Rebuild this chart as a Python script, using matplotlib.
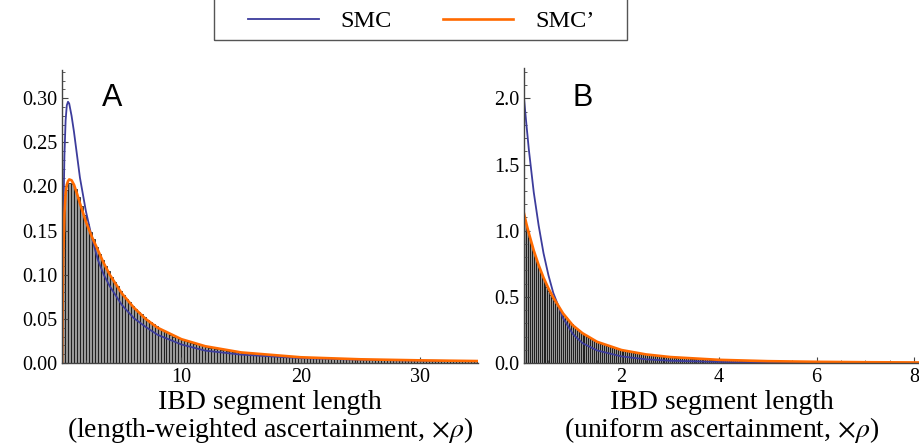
import numpy as np
import matplotlib
matplotlib.use("Agg")
import matplotlib.pyplot as plt
from matplotlib.lines import Line2D
from matplotlib.patches import Rectangle
from matplotlib.ticker import MultipleLocator, FixedLocator

plt.rcParams["font.family"] = ["Liberation Serif", "DejaVu Serif"]
plt.rcParams["mathtext.fontset"] = "stix"

# ---- panel A: length-weighted ascertainment ----
bin_width_a = 0.25
hist_a = [
    0.150, 0.196, 0.204, 0.203, 0.197, 0.188, 0.178, 0.168,
    0.158, 0.149, 0.140, 0.132, 0.124, 0.117, 0.110, 0.104,
    0.098, 0.092, 0.087, 0.082, 0.077, 0.073, 0.069, 0.065,
    0.061, 0.058, 0.055, 0.052, 0.049, 0.046, 0.044, 0.042,
    0.039, 0.037, 0.035, 0.034, 0.032, 0.030, 0.029, 0.027,
    0.026, 0.025, 0.024, 0.023, 0.022, 0.021, 0.020, 0.019,
    0.018, 0.0175, 0.017, 0.016, 0.0155, 0.015, 0.0145, 0.014,
    0.0135, 0.013, 0.0125, 0.012, 0.0116, 0.0112, 0.0108, 0.0104,
    0.0100, 0.0097, 0.0094, 0.0091, 0.0088, 0.0085, 0.0082, 0.0080,
    0.0077, 0.0075, 0.0073, 0.0071, 0.0069, 0.0067, 0.0065, 0.0063,
    0.0062, 0.0060, 0.0059, 0.0058, 0.0057, 0.0056, 0.0055, 0.0054,
    0.0053, 0.0052, 0.0051, 0.0050, 0.0049, 0.0048, 0.0047, 0.0046,
    0.0045, 0.0044, 0.0044, 0.0043, 0.0042, 0.0041, 0.0041, 0.0040,
    0.0039, 0.0039, 0.0038, 0.0037, 0.0037, 0.0036, 0.0036, 0.0035,
    0.0034, 0.0034, 0.0033, 0.0033, 0.0032, 0.0032, 0.0031, 0.0031,
    0.0030, 0.0030, 0.0029, 0.0029, 0.0028, 0.0028, 0.0028, 0.0027,
    0.0027, 0.0026, 0.0026, 0.0026, 0.0025, 0.0025, 0.0025, 0.0024,
    0.0024, 0.0024, 0.0023, 0.0023,
]
x_line_a = [0, 0.05, 0.1, 0.2, 0.3, 0.4, 0.5, 0.6, 0.8, 1.0, 1.25, 1.5, 2, 2.5,
            3, 3.5, 4, 5, 6, 7, 8, 10, 12, 15, 20, 25, 30, 35]
smc_a = [0, 0.090, 0.155, 0.235, 0.275, 0.292, 0.296, 0.294, 0.280, 0.262, 0.236,
         0.210, 0.172, 0.142, 0.117, 0.100, 0.087, 0.066, 0.051, 0.041, 0.032,
         0.021, 0.014, 0.0095, 0.0055, 0.0037, 0.0027, 0.0020]
smcp_a = [0, 0.070, 0.120, 0.170, 0.192, 0.202, 0.206, 0.208, 0.207, 0.202, 0.192,
          0.181, 0.160, 0.143, 0.128, 0.113, 0.100, 0.079, 0.063, 0.050, 0.040,
          0.027, 0.019, 0.012, 0.0065, 0.0042, 0.0030, 0.0022]

# ---- panel B: uniform ascertainment ----
bin_width_b = 0.04
hist_b = [
    1.06, 1.00, 0.948, 0.897, 0.849, 0.803, 0.760, 0.719, 0.681, 0.644,
    0.610, 0.577, 0.546, 0.517, 0.490, 0.466, 0.443, 0.421, 0.401, 0.381,
    0.363, 0.345, 0.328, 0.312, 0.297, 0.277, 0.264, 0.252, 0.240, 0.229,
    0.218, 0.209, 0.199, 0.191, 0.182, 0.174, 0.166, 0.159, 0.153, 0.147,
    0.141, 0.136, 0.130, 0.125, 0.120, 0.116, 0.111, 0.107, 0.103, 0.099,
    0.096, 0.093, 0.090, 0.087, 0.084, 0.081, 0.079, 0.076, 0.074, 0.071,
    0.069, 0.067, 0.065, 0.063, 0.061, 0.059, 0.057, 0.056, 0.054, 0.052,
    0.051, 0.049, 0.048, 0.046, 0.045, 0.0437, 0.0426, 0.0416, 0.0405, 0.0395,
    0.0385, 0.0376, 0.0366, 0.0357, 0.0348, 0.0340, 0.0331, 0.0323, 0.0315, 0.0307,
    0.0300, 0.0292, 0.0285, 0.0278, 0.0271, 0.0264, 0.0258, 0.0251, 0.0245, 0.0239,
    0.0234, 0.0229, 0.0224, 0.0219, 0.0215, 0.0210, 0.0206, 0.0201, 0.0197, 0.0193,
    0.0189, 0.0184, 0.0181, 0.0177, 0.0173, 0.0169, 0.0166, 0.0162, 0.0159, 0.0155,
    0.0152, 0.0149, 0.0146, 0.0142, 0.0139, 0.0137, 0.0134, 0.0132, 0.0130, 0.0127,
    0.0125, 0.0123, 0.0121, 0.0119, 0.0117, 0.0115, 0.0113, 0.0111, 0.0109, 0.0107,
    0.0105, 0.0103, 0.0101, 0.0099, 0.0098, 0.0096, 0.0094, 0.0093, 0.0091, 0.0089,
    0.0088, 0.0086, 0.0085, 0.0084, 0.0082, 0.0081, 0.0080, 0.0078, 0.0077, 0.0076,
    0.0075, 0.0073, 0.0072, 0.0071, 0.0070, 0.0069, 0.0068, 0.0067, 0.0065, 0.0064,
    0.0063, 0.0062, 0.0061, 0.0060, 0.0059, 0.0058, 0.0057, 0.0056, 0.0055, 0.0054,
    0.0054, 0.0053, 0.0052, 0.0051, 0.0050, 0.0049, 0.0049, 0.0048, 0.0047, 0.0046,
    0.0046, 0.0045, 0.0044, 0.0043, 0.0043, 0.0042, 0.0041, 0.0041, 0.0040, 0.0039,
]
x_line_b = [0, 0.05, 0.1, 0.2, 0.3, 0.4, 0.5, 0.6, 0.8, 1.0, 1.2, 1.5, 2.0, 2.5,
            3, 4, 5, 6, 7, 8.1]
smc_b = [2.0, 1.80, 1.61, 1.29, 1.04, 0.83, 0.665, 0.530, 0.340, 0.220, 0.150,
         0.095, 0.050, 0.028, 0.017, 0.008, 0.004, 0.0025, 0.0015, 0.0010]
smcp_b = [1.13, 1.05, 0.98, 0.85, 0.74, 0.645, 0.565, 0.495, 0.375, 0.285, 0.225,
          0.160, 0.098, 0.065, 0.045, 0.024, 0.014, 0.009, 0.006, 0.004]

blue = "#3c3c9c"
orange = "#ff6a00"
axis_col = "#444444"

fig = plt.figure(figsize=(9.19, 4.47), dpi=100)
ax_a = fig.add_axes([0.0675, 0.1879, 0.4527, 0.6555])
ax_b = fig.add_axes([0.5702, 0.1879, 0.4298, 0.6600])


def draw_panel(ax, width, heights, xl, y1, y2):
    lefts = np.arange(len(heights)) * width
    ax.bar(lefts, heights, width=width, align="edge", color="#999999",
           edgecolor="black", linewidth=0.5)
    ax.plot(xl, y1, color=blue, lw=1.3, solid_joinstyle="round")
    ax.plot(xl, y2, color=orange, lw=1.9, solid_joinstyle="round")
    for s in ("top", "right"):
        ax.spines[s].set_visible(False)
    for s in ("left", "bottom"):
        ax.spines[s].set_color(axis_col)
        ax.spines[s].set_linewidth(1.0)
    ax.tick_params(which="both", direction="in", colors=axis_col, labelcolor="black",
                   labelsize=14.5)
    ax.tick_params(which="major", length=4.5, width=0.8)
    ax.tick_params(which="minor", length=2.5, width=0.6)


draw_panel(ax_a, bin_width_a, hist_a, x_line_a, smc_a, smcp_a)
ax_a.set_xlim(0, 34.85)
ax_a.set_ylim(0, 0.332)
ax_a.xaxis.set_major_locator(FixedLocator([10, 20, 30]))
ax_a.xaxis.set_minor_locator(MultipleLocator(2))
ax_a.yaxis.set_major_locator(MultipleLocator(0.05))
ax_a.yaxis.set_minor_locator(MultipleLocator(0.01))
ax_a.yaxis.set_major_formatter(lambda v, p: f"{v:.2f}")

draw_panel(ax_b, bin_width_b, hist_b, x_line_b, smc_b, smcp_b)
ax_b.set_xlim(0, 8.1)
ax_b.set_ylim(0, 2.23)
ax_b.xaxis.set_major_locator(FixedLocator([2, 4, 6, 8]))
ax_b.xaxis.set_minor_locator(MultipleLocator(0.5))
ax_b.yaxis.set_major_locator(MultipleLocator(0.5))
ax_b.yaxis.set_minor_locator(MultipleLocator(0.1))
ax_b.yaxis.set_major_formatter(lambda v, p: f"{v:.1f}")

ax_a.set_xlabel("IBD segment length\n(length-weighted ascertainment, $\\times\\rho$)",
                fontsize=20, labelpad=2, linespacing=1.0)
ax_b.set_xlabel("IBD segment length\n(uniform ascertainment, $\\times\\rho$)",
                fontsize=20, labelpad=2, linespacing=1.0)

fig.text(112 / 919, 1 - 98 / 447, "A", fontsize=22, family="Liberation Sans",
         ha="center", va="center")
fig.text(583 / 919, 1 - 98 / 447, "B", fontsize=22, family="Liberation Sans",
         ha="center", va="center")

# legend box (its top edge runs off the figure)
fig.patches.append(Rectangle((214 / 919, 1 - 40 / 447), (627 - 214) / 919, 0.2,
                             transform=fig.transFigure, fill=False,
                             edgecolor="#555555", linewidth=1.0))
handles = [Line2D([], [], color=blue, lw=1.3), Line2D([], [], color=orange, lw=1.9)]
fig.legend(handles, ["SMC", "SMC\u2019"], loc="center",
           bbox_to_anchor=(0.4587, 1 - 21 / 447), ncol=2, fontsize=17.5,
           frameon=False, handlelength=2.9, handletextpad=0.9, columnspacing=2.1,
           borderpad=0, borderaxespad=0)

fig.savefig("out.png", dpi=100)
